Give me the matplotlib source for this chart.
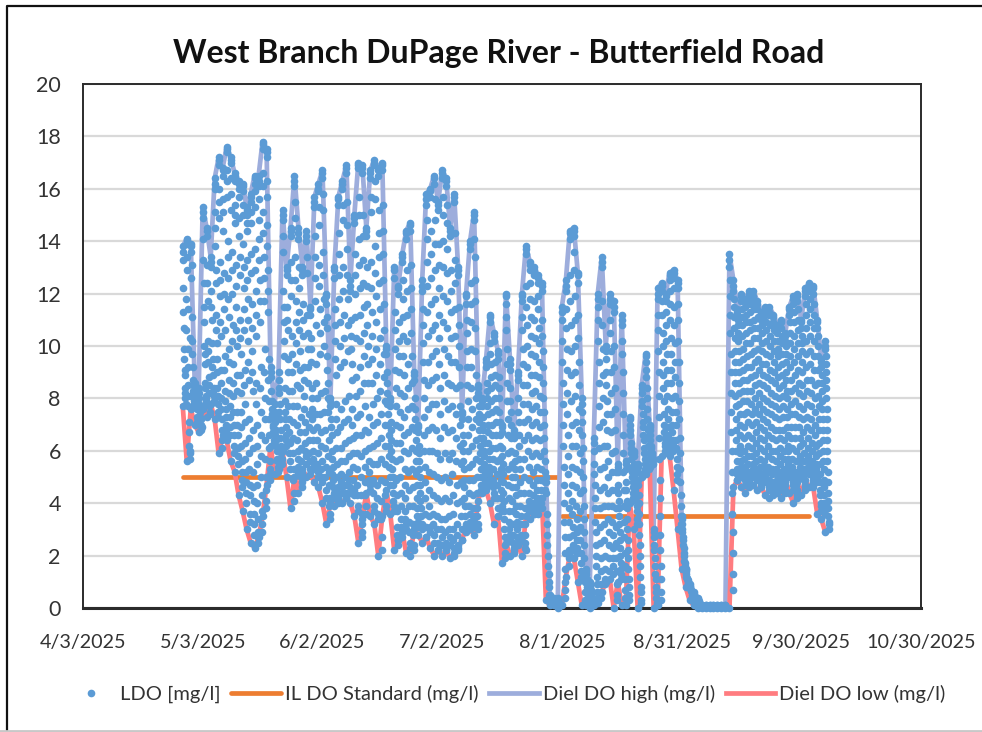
import numpy as np
import matplotlib
matplotlib.use('Agg')
import matplotlib.pyplot as plt
from matplotlib.lines import Line2D

plt.rcParams['font.family'] = ['Lato', 'DejaVu Sans']

# First day of record, one row of each list per day
first_day = np.datetime64('2025-04-28')

# Diel DO high (mg/l)
diel_high = [13.8, 14.1, 13.9, 8.6, 8.4, 15.3, 14.5, 13.4, 16.4, 17.2,
             16.8, 17.6, 17.2, 16.6, 16.3, 16.2, 15.3, 15.8, 16.5, 16.5,
             17.8, 17.5, 9.2, 7.8, 9.0, 15.2, 13.0, 14.5, 16.5, 14.5,
             13.0, 14.4, 11.5, 15.7, 16.2, 16.7, 12.0, 8.0, 13.0, 15.7,
             16.3, 16.9, 12.5, 15.0, 17.0, 16.9, 14.5, 16.7, 17.1, 16.8,
             17.0, 10.0, 8.0, 13.0, 12.3, 13.5, 14.4, 14.7, 9.0, 7.0,
             12.5, 15.8, 16.0, 16.5, 15.5, 16.7, 16.4, 14.5, 15.8, 13.0,
             7.5, 12.0, 14.0, 15.1, 8.5, 8.0, 9.5, 11.2, 10.5, 9.8,
             7.0, 12.0, 9.5, 6.8, 9.0, 12.0, 13.8, 13.2, 13.0, 12.7,
             12.4, 5.0, 0.5, 0.4, 0.4, 11.5, 12.5, 14.4, 14.5, 12.8,
             8.0, 1.5, 1.0, 6.5, 12.0, 13.4, 10.0, 12.0, 11.7, 5.5,
             11.2, 5.6, 7.3, 6.0, 5.5, 8.5, 9.7, 7.0, 3.0, 12.2,
             12.4, 12.0, 12.8, 12.9, 12.5, 3.5, 1.5, 0.9, 0.6, 0.4,
             0.1, 0.1, 0.1, 0.1, 0.1, 0.1, 0.1, 13.5, 12.5, 11.4,
             12.0, 11.8, 12.1, 12.1, 11.7, 11.3, 11.5, 11.5, 11.2, 10.8,
             11.0, 10.5, 11.5, 11.9, 12.0, 11.0, 12.2, 12.4, 12.3, 11.0,
             9.5, 10.2]

# Diel DO low (mg/l)
diel_low = [7.7, 5.6, 7.6, 7.0, 6.7, 7.6, 7.3, 7.8, 7.2, 5.9,
            6.6, 6.4, 5.6, 5.2, 4.3, 3.7, 3.0, 2.5, 2.3, 2.7,
            3.5, 4.7, 6.2, 5.1, 5.3, 6.0, 5.0, 3.8, 5.0, 4.4,
            5.3, 5.0, 5.1, 4.8, 4.6, 4.0, 3.2, 4.0, 3.9, 4.2,
            4.0, 4.2, 4.0, 3.5, 2.5, 3.4, 4.4, 3.5, 3.2, 2.0,
            3.5, 4.5, 3.6, 2.2, 2.6, 2.9, 2.1, 2.0, 3.0, 2.8,
            2.5, 2.7, 2.3, 2.0, 2.2, 2.0, 2.2, 1.9, 2.0, 2.3,
            2.6, 3.1, 3.0, 2.8, 4.1, 4.6, 4.5, 4.0, 3.2, 3.5,
            1.7, 2.5, 2.0, 2.2, 2.4, 2.0, 3.5, 3.4, 3.6, 3.6,
            4.2, 0.3, 0.1, 0.1, 0.0, 0.1, 1.2, 2.0, 1.9, 1.0,
            0.1, 0.1, 0.0, 0.1, 0.2, 0.6, 1.0, 1.1, 0.0, 1.0,
            0.1, 0.1, 4.0, 3.0, 0.0, 5.0, 5.1, 5.4, 0.0, 0.1,
            5.8, 5.9, 5.8, 4.5, 3.0, 1.5, 0.8, 0.3, 0.1, 0.0,
            0.0, 0.0, 0.0, 0.0, 0.0, 0.0, 0.0, 0.0, 4.6, 4.9,
            4.6, 4.4, 4.8, 4.7, 4.5, 4.6, 4.3, 4.2, 4.3, 4.4,
            4.2, 4.9, 4.4, 4.0, 4.8, 4.3, 4.9, 4.6, 4.6, 3.6,
            3.4, 2.9]

# LDO readings between the daily extremes (mg/l), one list per day
ldo_readings = [
    [13.3, 12.2, 10.7, 9.5, 8.9, 8.4, 8.0, 10.6, 11.8],
    [13.9, 12.9, 11.4, 9.9, 8.5, 7.1, 6.2, 5.9, 8.1, 10.3],
    [13.6, 12.6, 11.1, 10.2, 9.2, 8.7, 8.3, 8.0, 7.9],
    [8.3, 8.1, 7.9, 7.6, 7.3, 7.2],
    [8.2, 7.8, 7.5, 7.2, 7.0, 6.9],
    [14.9, 14.1, 12.4, 10.9, 10.0, 9.3, 8.6, 8.1, 8.0, 7.9],
    [14.2, 13.1, 11.7, 10.2, 9.4, 8.8, 8.2, 7.8, 7.5],
    [13.0, 12.1, 11.0, 10.1, 9.5, 8.9, 8.4, 8.1],
    [16.0, 15.1, 13.8, 12.4, 11.2, 10.1, 9.0, 8.4, 7.8, 7.5],
    [16.9, 16.0, 14.9, 13.2, 11.9, 10.4, 9.1, 8.0, 7.2, 6.4],
    [16.5, 15.6, 14.4, 12.8, 11.4, 10.6, 9.6, 8.3, 7.6, 7.0],
    [17.4, 16.7, 15.7, 14.0, 12.6, 11.1, 9.9, 8.7, 7.7, 6.9],
    [17.0, 16.4, 15.2, 13.6, 12.0, 10.8, 9.3, 8.1, 7.0, 6.2],
    [16.3, 15.4, 14.7, 13.1, 11.5, 10.0, 8.9, 7.5, 6.6, 5.8],
    [16.0, 15.7, 14.2, 12.7, 11.0, 9.7, 8.2, 6.9, 5.6, 4.9],
    [15.9, 15.0, 13.9, 12.2, 10.6, 9.1, 7.8, 6.3, 5.2, 4.4],
    [15.0, 14.4, 13.3, 11.8, 10.2, 8.7, 7.2, 5.9, 4.7, 3.6],
    [15.5, 14.7, 13.5, 11.6, 9.8, 8.3, 6.8, 5.2, 4.1, 3.2],
    [16.2, 15.3, 13.7, 12.1, 10.4, 8.6, 7.0, 5.5, 4.0, 2.9, 2.5],
    [16.1, 15.6, 14.1, 12.5, 10.9, 9.2, 7.5, 5.8, 4.3, 3.2],
    [17.5, 16.6, 15.1, 13.4, 11.7, 9.9, 8.0, 6.4, 5.0, 4.1],
    [17.2, 16.3, 14.6, 12.9, 11.3, 9.5, 7.9, 6.6, 5.6, 5.1],
    [8.8, 8.3, 7.9, 7.4, 7.0, 6.7, 6.4],
    [7.5, 7.1, 6.8, 6.4, 6.0, 5.7, 5.4],
    [8.7, 8.2, 7.8, 7.2, 6.8, 6.2, 5.7],
    [14.8, 13.6, 12.1, 10.9, 9.6, 8.4, 7.5, 6.9, 6.4],
    [12.7, 11.5, 10.6, 9.5, 8.3, 7.2, 6.3, 5.6],
    [14.2, 13.2, 11.9, 10.4, 9.0, 7.7, 6.5, 5.3, 4.4],
    [16.1, 14.9, 13.4, 11.7, 10.1, 8.5, 7.0, 6.0, 5.4],
    [14.1, 13.0, 11.3, 9.8, 8.4, 7.3, 6.1, 5.2, 4.8],
    [12.7, 11.6, 10.4, 9.2, 8.1, 7.1, 6.3, 5.8],
    [14.0, 12.8, 11.2, 9.9, 8.6, 7.4, 6.4, 5.6],
    [11.2, 10.3, 9.4, 8.4, 7.6, 6.8, 6.0, 5.5],
    [15.3, 14.2, 12.6, 10.8, 9.3, 8.0, 6.9, 5.9, 5.2],
    [15.9, 14.6, 13.1, 11.4, 9.7, 8.2, 6.7, 5.6, 5.0],
    [16.4, 15.2, 13.6, 11.8, 10.0, 8.3, 6.8, 5.4, 4.5],
    [11.6, 10.7, 9.6, 8.6, 7.5, 6.4, 5.2, 4.2, 3.6],
    [7.7, 7.2, 6.6, 6.0, 5.4, 4.9, 4.4],
    [12.6, 11.4, 10.2, 8.9, 7.8, 6.7, 5.5, 4.6, 4.2],
    [15.4, 14.3, 12.7, 10.9, 9.2, 7.6, 6.1, 5.1, 4.6],
    [16.0, 14.8, 13.0, 11.2, 9.4, 7.9, 6.3, 5.0, 4.4],
    [16.6, 15.5, 13.7, 11.8, 9.8, 8.1, 6.4, 5.2, 4.6],
    [12.1, 11.0, 9.9, 8.7, 7.6, 6.5, 5.4, 4.5],
    [14.7, 13.5, 12.0, 10.3, 8.8, 7.3, 5.9, 4.7, 3.9],
    [16.8, 15.7, 14.1, 12.2, 10.2, 8.3, 6.6, 5.0, 3.6, 2.9],
    [16.6, 15.0, 13.3, 11.5, 9.6, 7.7, 6.0, 4.8, 3.9],
    [14.2, 13.0, 11.6, 10.0, 8.6, 7.3, 6.1, 5.2, 4.7],
    [16.4, 15.1, 13.2, 11.3, 9.5, 7.8, 6.2, 4.9, 3.9],
    [16.9, 15.6, 13.8, 11.9, 9.9, 8.0, 6.3, 4.7, 3.6],
    [16.5, 15.2, 13.4, 11.4, 9.3, 7.4, 5.7, 4.1, 2.7],
    [16.7, 15.4, 13.5, 11.6, 9.7, 7.9, 6.2, 4.8, 3.9],
    [9.7, 9.0, 8.2, 7.4, 6.6, 5.8, 5.0],
    [7.7, 7.1, 6.4, 5.7, 5.0, 4.4, 3.9],
    [12.6, 11.3, 9.9, 8.4, 7.0, 5.6, 4.3, 3.1, 2.6],
    [12.0, 10.9, 9.6, 8.2, 6.9, 5.7, 4.4, 3.4, 2.9],
    [13.2, 11.8, 10.4, 8.9, 7.3, 6.0, 4.7, 3.7, 3.2],
    [14.1, 12.9, 11.2, 9.3, 7.6, 5.9, 4.5, 3.3, 2.5],
    [14.4, 13.1, 11.4, 9.6, 7.7, 6.1, 4.6, 3.2, 2.4],
    [8.7, 8.0, 7.2, 6.4, 5.6, 4.7, 3.8, 3.3],
    [6.7, 6.2, 5.6, 5.0, 4.4, 3.8, 3.2],
    [12.1, 10.8, 9.4, 8.0, 6.6, 5.4, 4.2, 3.1],
    [15.4, 14.1, 12.3, 10.4, 8.5, 6.8, 5.2, 3.9, 3.1],
    [15.7, 14.4, 12.6, 10.6, 8.7, 6.9, 5.1, 3.6, 2.8],
    [16.2, 14.8, 12.9, 10.8, 8.8, 6.8, 5.0, 3.5, 2.5],
    [15.2, 13.9, 12.2, 10.3, 8.4, 6.5, 4.9, 3.4, 2.7],
    [16.4, 15.0, 13.0, 10.9, 8.9, 6.9, 5.0, 3.4, 2.5],
    [16.1, 14.7, 12.8, 10.7, 8.6, 6.7, 4.8, 3.5, 2.7],
    [14.2, 12.9, 11.3, 9.4, 7.7, 5.9, 4.3, 3.0, 2.3],
    [15.5, 14.3, 12.4, 10.4, 8.4, 6.5, 4.7, 3.2, 2.4],
    [12.7, 11.5, 10.0, 8.5, 7.0, 5.5, 4.1, 3.0],
    [7.2, 6.6, 6.0, 5.3, 4.6, 3.9, 3.2],
    [11.6, 10.5, 9.2, 7.9, 6.6, 5.4, 4.4, 3.6],
    [13.7, 12.4, 10.9, 9.2, 7.6, 6.2, 4.9, 3.8, 3.3],
    [14.8, 13.4, 11.7, 9.8, 8.0, 6.4, 5.0, 3.8, 3.2],
    [8.2, 7.7, 7.1, 6.5, 5.9, 5.3, 4.7, 4.4],
    [7.7, 7.3, 6.8, 6.3, 5.8, 5.3, 4.9],
    [9.2, 8.6, 8.0, 7.4, 6.7, 6.0, 5.4, 4.9],
    [10.9, 10.1, 9.3, 8.4, 7.5, 6.6, 5.7, 4.9, 4.4],
    [10.2, 9.4, 8.5, 7.6, 6.6, 5.6, 4.7, 3.8],
    [9.5, 8.8, 8.0, 7.1, 6.2, 5.3, 4.5, 3.9],
    [6.7, 6.1, 5.5, 4.8, 4.1, 3.4, 2.7, 2.1],
    [11.6, 10.6, 9.3, 7.9, 6.6, 5.3, 4.2, 3.3, 2.8],
    [9.1, 8.4, 7.5, 6.5, 5.5, 4.6, 3.7, 2.8, 2.3],
    [6.5, 5.9, 5.3, 4.6, 3.9, 3.3, 2.7],
    [8.7, 8.0, 7.1, 6.2, 5.3, 4.4, 3.5, 2.8],
    [11.7, 10.6, 9.3, 7.8, 6.4, 5.0, 3.8, 2.8, 2.3],
    [13.5, 12.3, 10.8, 9.2, 7.8, 6.6, 5.4, 4.4, 3.9],
    [12.9, 11.8, 10.4, 8.9, 7.6, 6.4, 5.2, 4.3, 3.8],
    [12.7, 11.7, 10.3, 8.9, 7.7, 6.5, 5.4, 4.5, 4.0],
    [12.4, 11.4, 10.1, 8.8, 7.5, 6.4, 5.3, 4.5, 4.0],
    [12.1, 11.0, 9.8, 8.6, 7.5, 6.5, 5.6, 4.8],
    [4.4, 3.6, 2.8, 2.0, 1.3, 0.8],
    [0.4, 0.3, 0.2],
    [0.3, 0.2, 0.15],
    [0.3, 0.2, 0.1],
    [11.0, 9.4, 7.8, 6.2, 4.7, 3.3, 2.1, 1.0, 0.4],
    [12.1, 10.7, 9.1, 7.4, 5.8, 4.4, 3.3, 2.2, 1.6],
    [14.1, 12.7, 10.8, 8.9, 7.0, 5.4, 4.1, 3.1, 2.4],
    [14.2, 12.9, 11.0, 9.0, 7.1, 5.3, 3.9, 2.9, 2.3],
    [12.4, 11.2, 9.4, 7.6, 5.9, 4.4, 3.1, 2.1, 1.4],
    [7.5, 6.6, 5.6, 4.5, 3.4, 2.4, 1.4, 0.6],
    [1.3, 1.0, 0.7, 0.4, 0.2],
    [0.8, 0.6, 0.4, 0.2, 0.1],
    [6.0, 5.1, 4.2, 3.3, 2.4, 1.6, 0.9, 0.4],
    [11.5, 10.2, 8.6, 6.9, 5.3, 3.8, 2.5, 1.4, 0.6],
    [13.0, 11.7, 9.9, 8.0, 6.2, 4.6, 3.2, 2.0, 1.1],
    [9.5, 8.5, 7.4, 6.2, 5.0, 3.9, 2.9, 1.9],
    [11.6, 10.5, 9.0, 7.4, 5.9, 4.5, 3.3, 2.3, 1.6],
    [11.3, 10.0, 8.4, 6.8, 5.2, 3.8, 2.5, 1.4, 0.5],
    [5.2, 4.7, 4.1, 3.5, 2.9, 2.3, 1.7, 1.3],
    [10.8, 9.7, 8.2, 6.6, 5.2, 3.9, 2.7, 1.6, 0.7],
    [5.3, 4.8, 4.1, 3.4, 2.6, 1.9, 1.1, 0.5],
    [7.0, 6.6, 6.1, 5.7, 5.2, 4.8, 4.4],
    [5.8, 5.5, 5.1, 4.7, 4.3, 3.9, 3.4],
    [5.2, 4.7, 4.0, 3.2, 2.4, 1.6, 0.8, 0.3],
    [8.2, 7.7, 7.1, 6.6, 6.1, 5.7, 5.3],
    [9.4, 8.8, 8.0, 7.2, 6.5, 5.9, 5.4],
    [6.8, 6.4, 6.1, 5.9, 5.7],
    [2.7, 2.2, 1.6, 1.1, 0.6, 0.2],
    [11.8, 10.6, 9.0, 7.3, 5.7, 4.2, 2.8, 1.6, 0.6],
    [12.1, 11.2, 10.0, 8.9, 7.9, 7.0, 6.5, 6.2],
    [11.7, 10.8, 9.7, 8.6, 7.6, 6.9, 6.4, 6.2],
    [12.5, 11.6, 10.3, 9.1, 8.0, 7.0, 6.4, 6.1],
    [12.6, 11.5, 10.1, 8.8, 7.5, 6.4, 5.7, 5.1],
    [12.2, 11.0, 9.4, 7.9, 6.5, 5.3, 4.3, 3.5],
    [3.2, 2.9, 2.6, 2.3, 2.0, 1.7],
    [1.4, 1.2, 1.1, 1.0, 0.9],
    [0.8, 0.7, 0.6, 0.4],
    [0.5, 0.4, 0.3, 0.2],
    [0.3, 0.2, 0.1],
    [0.05], [0.05], [0.05], [0.05], [0.05], [0.05], [0.05],
    [13.0, 11.9, 10.5, 9.0, 7.5, 6.0, 4.4, 2.9, 1.3],
    [12.1, 11.5, 10.7, 9.8, 9.0, 8.1, 7.2, 6.4, 5.6, 5.1],
    [11.2, 10.8, 10.2, 9.4, 8.6, 7.8, 7.0, 6.2, 5.6, 5.2],
    [11.7, 11.1, 10.4, 9.5, 8.7, 7.9, 6.9, 6.0, 5.4, 4.9],
    [11.5, 10.9, 10.1, 9.2, 8.3, 7.5, 6.6, 5.8, 5.2, 4.7],
    [11.8, 11.3, 10.6, 9.7, 8.8, 7.8, 7.0, 6.1, 5.5, 5.1],
    [11.8, 11.0, 10.3, 9.4, 8.5, 7.6, 6.7, 5.9, 5.3, 5.0],
    [11.4, 10.7, 9.9, 9.1, 8.2, 7.4, 6.5, 5.7, 5.1, 4.8],
    [11.0, 10.5, 9.8, 8.9, 8.0, 7.2, 6.4, 5.6, 5.2, 4.9],
    [11.2, 10.6, 9.7, 8.8, 7.9, 7.1, 6.2, 5.4, 4.9, 4.6],
    [11.2, 10.4, 9.6, 8.7, 7.8, 6.9, 6.0, 5.3, 4.8, 4.5],
    [10.9, 10.2, 9.4, 8.6, 7.7, 6.8, 6.0, 5.3, 4.9, 4.6],
    [10.5, 9.9, 9.2, 8.4, 7.6, 6.8, 6.1, 5.5, 5.0, 4.7],
    [10.7, 10.1, 9.3, 8.5, 7.7, 6.8, 6.0, 5.3, 4.8, 4.5],
    [10.2, 9.7, 9.0, 8.3, 7.6, 6.9, 6.2, 5.7, 5.3, 5.1],
    [11.2, 10.5, 9.6, 8.7, 7.8, 6.9, 6.1, 5.4, 5.0, 4.7],
    [11.6, 10.9, 9.9, 8.9, 7.9, 6.9, 6.0, 5.2, 4.7, 4.3],
    [11.7, 11.0, 10.1, 9.1, 8.2, 7.3, 6.5, 5.8, 5.4, 5.1],
    [10.7, 10.1, 9.4, 8.5, 7.6, 6.7, 5.9, 5.3, 4.9, 4.6],
    [11.9, 11.2, 10.2, 9.2, 8.3, 7.3, 6.5, 5.8, 5.4, 5.2],
    [12.1, 11.4, 10.4, 9.3, 8.2, 7.2, 6.3, 5.6, 5.2, 4.9],
    [12.0, 11.2, 10.2, 9.1, 8.0, 7.0, 6.2, 5.5, 5.1, 4.9],
    [10.7, 10.0, 9.1, 8.1, 7.2, 6.3, 5.5, 4.8, 4.3, 3.9],
    [9.2, 8.6, 7.9, 7.2, 6.4, 5.6, 4.9, 4.3, 3.8],
    [9.9, 9.3, 8.7, 8.0, 7.2, 6.4, 5.6, 4.8, 4.1, 3.5, 3.2],
]

# Further LDO readings, the overnight band and the afternoon peak (mg/l)
ldo_extra = [
    [13.6, 11.3, 9.9, 9.1, 8.2, 7.8],
    [14.0, 13.4, 9.2, 7.7, 6.7, 6.0, 5.7],
    [13.8, 13.1, 9.7, 8.5, 7.8],
    [8.5, 7.7, 7.1],
    [8.0, 7.3, 6.8],
    [15.1, 13.3, 11.5, 9.7, 8.4, 7.8],
    [14.4, 12.4, 9.8, 8.5, 7.7, 7.4],
    [13.2, 11.5, 9.2, 8.3, 7.9],
    [16.2, 14.5, 12.9, 10.6, 9.5, 8.1, 7.3],
    [17.1, 15.5, 12.5, 10.9, 8.6, 7.6, 6.8, 6.1],
    [16.7, 15.1, 12.0, 9.1, 7.9, 7.3, 6.8],
    [17.5, 16.3, 13.4, 11.8, 9.4, 8.2, 7.3, 6.6],
    [17.1, 15.8, 12.9, 10.2, 8.6, 7.5, 6.6, 5.9],
    [16.5, 15.0, 12.3, 10.6, 8.3, 7.0, 6.1, 5.5],
    [16.2, 14.9, 13.4, 10.3, 8.9, 7.5, 6.2, 5.2, 4.6],
    [16.1, 15.4, 13.0, 11.4, 8.5, 7.1, 5.7, 4.8, 4.0],
    [15.2, 14.7, 12.5, 11.0, 9.4, 6.5, 5.3, 4.3, 3.3],
    [15.7, 15.1, 12.8, 10.7, 9.0, 6.1, 4.6, 3.6, 2.8],
    [16.4, 15.9, 12.9, 11.2, 7.8, 6.2, 4.7, 3.4, 2.7],
    [16.3, 14.8, 13.3, 11.7, 8.4, 6.6, 5.0, 3.7, 2.9],
    [17.7, 16.1, 14.3, 12.6, 9.0, 7.2, 5.7, 4.5, 3.8],
    [17.4, 15.7, 13.8, 12.1, 8.7, 7.2, 6.1, 5.3, 4.9],
    [9.0, 7.6, 6.9, 6.3],
    [7.3, 6.6, 6.2, 5.6, 5.2],
    [8.4, 7.5, 6.5, 5.9, 5.5],
    [15.0, 14.2, 11.5, 10.2, 7.9, 7.2, 6.6, 6.2],
    [12.9, 11.0, 9.0, 7.7, 6.7, 5.9, 5.3],
    [14.4, 12.5, 9.7, 8.3, 7.1, 5.9, 4.9, 4.1],
    [16.3, 15.5, 12.5, 10.9, 9.3, 7.7, 6.4, 5.7, 5.2],
    [14.3, 12.2, 10.6, 9.1, 6.7, 5.6, 5.0, 4.6],
    [12.9, 11.0, 8.7, 7.6, 6.7, 6.0, 5.5],
    [14.2, 13.4, 10.5, 9.2, 6.9, 5.9, 5.3],
    [11.4, 9.9, 8.0, 7.2, 6.4, 5.7, 5.3],
    [15.5, 13.4, 11.7, 8.6, 7.4, 6.4, 5.5, 5.0],
    [16.0, 15.3, 12.3, 10.5, 7.4, 6.2, 5.3, 4.8],
    [16.6, 15.8, 12.7, 10.9, 7.5, 6.1, 5.0, 4.2],
    [11.9, 11.1, 9.1, 8.0, 5.8, 4.7, 3.9, 3.4],
    [7.9, 6.9, 5.7, 5.1, 4.6, 4.2],
    [12.9, 10.8, 9.5, 7.2, 6.1, 5.0, 4.4, 4.0],
    [15.6, 13.5, 11.8, 10.0, 6.9, 5.6, 4.8, 4.4],
    [16.2, 15.4, 12.1, 10.3, 7.1, 5.6, 4.7, 4.2],
    [16.8, 14.6, 12.7, 10.8, 7.2, 5.8, 4.9, 4.4],
    [12.3, 10.4, 9.3, 7.0, 5.9, 4.9, 4.3],
    [14.9, 12.7, 11.1, 8.1, 6.6, 5.3, 4.3, 3.7],
    [16.9, 15.0, 13.1, 11.2, 9.2, 7.4, 5.8, 4.3, 3.2, 2.7],
    [16.8, 14.2, 12.4, 10.5, 8.6, 6.8, 5.4, 4.3, 3.6],
    [14.4, 12.3, 10.8, 9.3, 6.7, 5.6, 4.9, 4.5],
    [16.6, 15.7, 12.2, 10.4, 8.6, 7.0, 5.5, 4.4, 3.7],
    [17.0, 16.3, 12.8, 10.9, 8.9, 7.1, 5.5, 4.2, 3.4],
    [16.7, 14.3, 12.4, 10.3, 8.3, 6.5, 4.9, 3.4, 2.2],
    [16.9, 14.4, 12.5, 10.6, 8.8, 7.0, 5.5, 4.3, 3.7],
    [9.9, 8.6, 7.8, 7.0, 6.2, 5.4, 4.7],
    [7.9, 6.8, 6.0, 5.3, 4.7, 4.1, 3.7],
    [12.9, 10.6, 9.1, 7.7, 6.3, 4.9, 3.7, 2.8, 2.4],
    [12.2, 10.2, 9.0, 7.5, 6.3, 5.0, 3.9, 3.1, 2.7],
    [13.4, 12.5, 11.1, 9.6, 8.1, 6.6, 5.3, 4.2, 3.4, 3.0],
    [14.3, 12.1, 10.2, 8.4, 6.7, 5.2, 3.9, 2.9, 2.3],
    [14.6, 12.2, 10.5, 8.6, 6.9, 5.3, 3.9, 2.8, 2.2],
    [8.9, 7.6, 6.8, 6.0, 5.1, 4.2, 3.5, 3.1],
    [6.9, 5.9, 5.3, 4.7, 4.1, 3.5, 3.0],
    [12.3, 11.4, 10.1, 8.7, 7.3, 6.0, 4.8, 3.6, 2.7],
    [15.6, 14.8, 13.2, 11.3, 9.4, 7.6, 6.0, 4.5, 3.5, 2.9],
    [15.9, 13.5, 11.6, 9.6, 7.8, 6.0, 4.3, 3.2, 2.5],
    [16.4, 15.6, 13.9, 11.8, 9.8, 7.8, 5.9, 4.2, 3.0, 2.2],
    [15.4, 13.1, 11.2, 9.3, 7.4, 5.7, 4.1, 3.0, 2.4],
    [16.6, 15.7, 14.0, 11.9, 9.9, 7.9, 5.9, 4.2, 2.9, 2.2],
    [16.3, 15.4, 13.7, 11.7, 9.6, 7.6, 5.7, 4.1, 3.0, 2.4],
    [14.4, 12.1, 10.3, 8.5, 6.8, 5.1, 3.6, 2.6, 2.1],
    [15.7, 13.3, 11.4, 9.4, 7.4, 5.6, 4.0, 2.8, 2.2],
    [12.9, 10.8, 9.2, 7.7, 6.2, 4.8, 3.5, 2.6],
    [7.4, 6.3, 5.6, 4.9, 4.2, 3.5, 2.9],
    [11.9, 11.0, 9.8, 8.5, 7.2, 6.0, 4.9, 3.9, 3.3],
    [13.9, 11.6, 9.9, 8.4, 6.9, 5.5, 4.3, 3.5, 3.1],
    [15.0, 14.1, 12.5, 10.7, 8.9, 7.2, 5.7, 4.4, 3.5, 3.0],
    [8.4, 7.4, 6.8, 6.2, 5.6, 5.0, 4.5],
    [7.9, 7.0, 6.5, 6.0, 5.5, 5.1, 4.7],
    [9.4, 8.3, 7.7, 7.0, 6.3, 5.7, 5.1, 4.7],
    [11.1, 9.7, 8.8, 7.9, 7.0, 6.1, 5.3, 4.6, 4.2],
    [10.4, 8.9, 8.0, 7.1, 6.1, 5.1, 4.2, 3.5],
    [9.7, 8.4, 7.5, 6.6, 5.7, 4.9, 4.2, 3.7],
    [6.9, 5.8, 5.1, 4.4, 3.7, 3.0, 2.4, 1.9],
    [11.9, 11.1, 9.9, 8.6, 7.2, 5.9, 4.7, 3.7, 3.0, 2.6],
    [9.3, 7.9, 7.0, 6.0, 5.0, 4.1, 3.2, 2.5, 2.1],
    [6.7, 5.6, 5.0, 4.3, 3.6, 3.0, 2.5],
    [8.9, 7.5, 6.6, 5.7, 4.8, 3.9, 3.2, 2.6],
    [11.9, 11.1, 9.9, 8.5, 7.1, 5.7, 4.4, 3.2, 2.5, 2.2],
    [13.7, 11.5, 10.0, 8.5, 7.2, 6.0, 4.9, 4.1, 3.7],
    [13.1, 12.4, 11.1, 9.7, 8.2, 7.0, 5.8, 4.7, 4.0, 3.6],
    [12.9, 11.0, 9.6, 8.3, 7.1, 5.9, 4.9, 4.2, 3.8],
    [12.6, 11.9, 10.7, 9.4, 8.1, 6.9, 5.8, 4.9, 4.2, 3.8],
    [12.3, 10.4, 9.2, 8.0, 7.0, 6.0, 5.2, 4.5],
    [4.8, 3.2, 2.4, 1.6, 1.0, 0.5],
    [0.45, 0.25],
    [0.35, 0.2],
    [0.35, 0.15],
    [11.3, 10.2, 8.6, 7.0, 5.4, 4.0, 2.7, 1.5, 0.7],
    [12.3, 11.4, 9.9, 8.2, 6.6, 5.1, 3.8, 2.7, 1.9],
    [14.3, 11.7, 9.8, 7.9, 6.2, 4.7, 3.6, 2.8, 2.2],
    [14.4, 13.6, 11.9, 10.0, 8.1, 6.2, 4.6, 3.4, 2.6, 2.1],
    [12.7, 10.3, 8.5, 6.8, 5.2, 3.7, 2.6, 1.7, 1.2],
    [7.8, 7.1, 6.1, 5.0, 3.9, 2.9, 1.9, 1.0, 0.3],
    [1.4, 1.1, 0.8, 0.5, 0.3],
    [0.9, 0.7, 0.5, 0.3, 0.1],
    [6.3, 5.5, 4.7, 3.8, 2.9, 2.0, 1.2, 0.6],
    [11.8, 11.0, 9.4, 7.7, 6.1, 4.5, 3.1, 1.9, 0.9, 0.4],
    [13.2, 10.8, 8.9, 7.1, 5.4, 3.9, 2.6, 1.5, 0.9],
    [9.8, 9.0, 7.9, 6.8, 5.6, 4.4, 3.4, 2.4, 1.4],
    [11.8, 11.0, 9.8, 8.2, 6.7, 5.2, 3.9, 2.8, 1.9, 1.3],
    [11.5, 9.2, 7.6, 6.0, 4.5, 3.1, 1.9, 0.9, 0.3],
    [5.4, 4.4, 3.8, 3.2, 2.6, 2.0, 1.5, 1.1],
    [11.0, 10.2, 9.0, 7.4, 5.9, 4.5, 3.3, 2.1, 1.1, 0.4],
    [5.5, 4.5, 3.8, 3.0, 2.2, 1.5, 0.8, 0.3],
    [7.2, 6.8, 6.3, 5.9, 5.4, 5.0, 4.6, 4.2],
    [5.9, 5.3, 4.9, 4.5, 4.1, 3.7, 3.2],
    [5.4, 4.9, 4.3, 3.6, 2.8, 2.0, 1.2, 0.6, 0.2],
    [8.4, 7.9, 7.4, 6.9, 6.4, 5.9, 5.5, 5.2],
    [9.6, 9.1, 8.4, 7.6, 6.8, 6.2, 5.7, 5.3],
    [6.9, 6.6, 6.2, 5.8, 5.6, 5.5],
    [2.9, 2.4, 1.9, 1.3, 0.8, 0.4, 0.1],
    [12.0, 11.2, 9.8, 8.1, 6.5, 4.9, 3.5, 2.2, 1.1, 0.3],
    [12.3, 11.7, 10.5, 9.4, 8.4, 7.4, 6.7, 6.3, 6.0],
    [11.9, 11.3, 10.2, 9.1, 8.1, 7.2, 6.6, 6.3, 6.1],
    [12.7, 12.1, 11.0, 9.7, 8.6, 7.5, 6.7, 6.3, 6.0],
    [12.8, 12.2, 10.8, 9.4, 8.1, 7.0, 6.1, 5.4, 4.9],
    [12.4, 11.6, 10.2, 8.6, 7.2, 5.9, 4.8, 3.9, 3.2],
    [3.4, 3.0, 2.7, 2.4, 2.1, 1.8, 1.6],
    [1.5, 1.3, 1.15, 1.05, 0.95, 0.85],
    [0.85, 0.75, 0.65, 0.5, 0.35],
    [0.55, 0.45, 0.35, 0.25, 0.15],
    [0.35, 0.25, 0.15, 0.05],
    [0.1], [0.1], [0.1], [0.1], [0.1], [0.1], [0.1],
    [13.3, 12.5, 11.2, 9.7, 8.2, 6.7, 5.2, 3.6, 2.1, 0.7],
    [12.3, 11.8, 11.1, 10.3, 9.4, 8.6, 7.7, 6.8, 6.0, 5.3, 4.9],
    [11.3, 11.0, 10.5, 9.8, 9.0, 8.2, 7.4, 6.6, 5.9, 5.4, 5.0],
    [11.9, 11.4, 10.8, 9.9, 9.1, 8.3, 7.4, 6.5, 5.7, 5.1, 4.7],
    [11.7, 11.2, 10.5, 9.6, 8.7, 7.9, 7.1, 6.2, 5.5, 5.0, 4.6],
    [12.0, 11.6, 10.9, 10.1, 9.2, 8.3, 7.4, 6.5, 5.8, 5.3, 5.0],
    [11.9, 11.4, 10.7, 9.8, 8.9, 8.0, 7.1, 6.3, 5.6, 5.2, 4.9],
    [11.6, 11.1, 10.3, 9.5, 8.6, 7.8, 6.9, 6.1, 5.4, 5.0, 4.7],
    [11.2, 10.8, 10.1, 9.3, 8.5, 7.6, 6.8, 6.0, 5.4, 5.0, 4.8],
    [11.4, 10.9, 10.2, 9.3, 8.4, 7.5, 6.6, 5.8, 5.2, 4.8, 4.5],
    [11.3, 10.8, 10.0, 9.1, 8.2, 7.4, 6.5, 5.7, 5.1, 4.7, 4.4],
    [11.1, 10.6, 9.8, 9.0, 8.1, 7.3, 6.4, 5.6, 5.1, 4.7, 4.5],
    [10.7, 10.2, 9.6, 8.8, 8.0, 7.2, 6.5, 5.8, 5.2, 4.8, 4.5],
    [10.9, 10.4, 9.7, 8.9, 8.1, 7.3, 6.4, 5.7, 5.1, 4.7, 4.4],
    [10.4, 10.0, 9.4, 8.7, 8.0, 7.3, 6.6, 6.0, 5.5, 5.2, 5.0],
    [11.4, 10.9, 10.1, 9.2, 8.3, 7.4, 6.5, 5.7, 5.2, 4.8, 4.5],
    [11.8, 11.3, 10.4, 9.4, 8.4, 7.4, 6.5, 5.6, 5.0, 4.5, 4.2],
    [11.9, 11.4, 10.6, 9.6, 8.6, 7.7, 6.9, 6.2, 5.6, 5.2, 5.0],
    [10.9, 10.4, 9.8, 9.0, 8.1, 7.2, 6.3, 5.6, 5.1, 4.7, 4.5],
    [12.1, 11.6, 10.7, 9.7, 8.7, 7.8, 6.9, 6.1, 5.6, 5.3, 5.1],
    [12.3, 11.8, 10.9, 9.8, 8.7, 7.7, 6.8, 6.0, 5.4, 5.0, 4.8],
    [12.2, 11.6, 10.7, 9.6, 8.5, 7.5, 6.6, 5.8, 5.3, 5.0, 4.8],
    [10.9, 10.4, 9.6, 8.6, 7.7, 6.8, 5.9, 5.1, 4.5, 4.0, 3.7],
    [9.4, 8.9, 8.3, 7.6, 6.8, 6.0, 5.3, 4.6, 4.0, 3.6],
    [10.0, 9.6, 9.0, 8.4, 7.6, 6.8, 6.0, 5.2, 4.4, 3.8, 3.3, 3.0],
]

# IL DO Standard: 5 mg/l through July, 3.5 mg/l from August
standard_days = ['2025-04-28', '2025-07-31']
standard_vals = [5.0, 5.0]
standard_days_2 = ['2025-08-01', '2025-10-02']
standard_vals_2 = [3.5, 3.5]

tick_days = ['2025-04-03', '2025-05-03', '2025-06-02', '2025-07-02',
             '2025-08-01', '2025-08-31', '2025-09-30', '2025-10-30']
tick_labels = ['4/3/2025', '5/3/2025', '6/2/2025', '7/2/2025',
               '8/1/2025', '8/31/2025', '9/30/2025', '10/30/2025']

day_nums = matplotlib.dates.date2num(first_day) + np.arange(len(diel_high))

# flatten the readings, spread through each day
ldo_x = []
ldo_y = []
for table in [ldo_readings, ldo_extra]:
    for day, vals in zip(day_nums, table):
        for j, v in enumerate(vals):
            ldo_x.append(day + j / len(vals))
            ldo_y.append(v)
ldo_x = np.hstack([ldo_x, day_nums, day_nums])
ldo_y = np.hstack([ldo_y, diel_high, diel_low])

fig = plt.figure(figsize=(9.82, 7.32), dpi=100)
ax = fig.add_axes([83 / 982, 1 - 608 / 732, 838 / 982, 524 / 732])

ax.plot(matplotlib.dates.datestr2num(standard_days), standard_vals,
        color='#ED7D31', linewidth=3.4, solid_capstyle='round', zorder=2,
        label='IL DO Standard (mg/l)')
ax.plot(matplotlib.dates.datestr2num(standard_days_2), standard_vals_2,
        color='#ED7D31', linewidth=3.4, solid_capstyle='round', zorder=2)
ax.plot(day_nums, diel_high, color='#9DADDC', linewidth=3.4, zorder=3,
        label='Diel DO high (mg/l)')
ax.plot(day_nums, diel_low, color='#FF7C80', linewidth=3.4, zorder=3,
        label='Diel DO low (mg/l)')
dots, = ax.plot(ldo_x, ldo_y, 'o', color='#5B9BD5', markersize=5.5,
                markeredgewidth=0, zorder=4, clip_on=False,
                label='LDO [mg/l]')

ax.set_xlim(matplotlib.dates.datestr2num(tick_days[0]),
            matplotlib.dates.datestr2num(tick_days[-1]))
ax.set_ylim(0, 20)
ax.set_yticks(np.arange(0, 21, 2))
ax.set_xticks(matplotlib.dates.datestr2num(tick_days))
ax.set_xticklabels(tick_labels)
ax.tick_params(axis='both', length=0, colors='#333333')
ax.tick_params(axis='x', pad=19, labelsize=14.2)
ax.tick_params(axis='y', pad=16, labelsize=15.5)
ax.grid(axis='y', color='#D9D9D9', linewidth=1.6)
ax.set_axisbelow(True)
for side in ax.spines:
    ax.spines[side].set_color('#2b2b2b')
    ax.spines[side].set_linewidth(1.4)
ax.spines['bottom'].set_linewidth(2.2)

fig.text(499 / 982, 1 - 54 / 732, 'West Branch DuPage River - Butterfield Road',
         ha='center', va='center', fontsize=23, fontweight='bold', color='#111111')

handles, labels = ax.get_legend_handles_labels()
order = [3, 0, 1, 2]
leg = fig.legend([handles[i] for i in order], [labels[i] for i in order],
                 ncol=4, loc='center', bbox_to_anchor=(506 / 982, 1 - 694 / 732),
                 frameon=False, fontsize=14.5, handlelength=2.45, handletextpad=0.2,
                 columnspacing=0.55, labelcolor='#333333')

# picture frame round the whole chart, open on the right
frame_x = [7 / 982, 7 / 982, 1]
frame_y = [0, 1 - 5.5 / 732, 1 - 5.5 / 732]
fig.add_artist(Line2D(frame_x, frame_y, color='#111111', linewidth=1.6))
fig.add_artist(Line2D([0, 1], [1.5 / 732, 1.5 / 732], color='#C8C8C8', linewidth=2))

fig.savefig('out.png', dpi=100)
